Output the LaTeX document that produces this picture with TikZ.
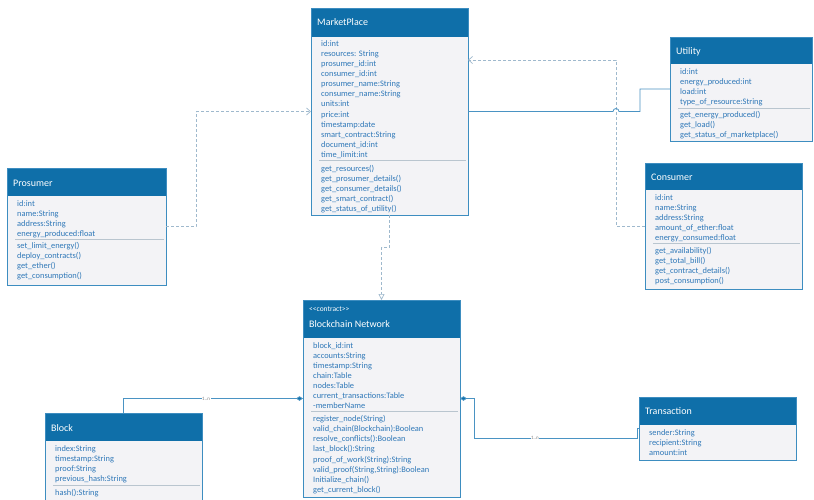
\documentclass[tikz,border=0pt]{standalone}
\usepackage{fontspec}
\setmainfont{Carlito}
\usetikzlibrary{arrows.meta,calc}
\definecolor{hdrblue}{HTML}{0F6FA9}
\definecolor{bodyfill}{HTML}{F3F3F6}
\definecolor{boxline}{HTML}{3D8DC0}
\definecolor{txtblue}{HTML}{2F78B8}
\definecolor{conline}{HTML}{4A93C3}
\definecolor{dashline}{HTML}{9FB9CD}
\definecolor{sepline}{HTML}{B9C5CF}
\tikzset{
  cbody/.style={fill=bodyfill, draw=none, inner sep=0pt, outer sep=0pt},
  ctext/.style={anchor=base west, inner sep=0pt, text=txtblue, font=\fontsize{8.4}{10}\selectfont},
  ctitle/.style={anchor=base west, inner sep=0pt, text=white, font=\fontsize{10}{12}\selectfont},
  cstereo/.style={anchor=base west, inner sep=0pt, text=white, font=\fontsize{7.5}{8}\selectfont},
  sepstyle/.style={draw=sepline, line width=0.6pt},
  dashc/.style={draw=dashline, line width=0.7pt, dash pattern=on 3pt off 2pt},
  solidc/.style={draw=conline, line width=0.8pt},
  lbl/.style={font=\fontsize{5}{5}\selectfont, text=gray, fill=white, inner sep=0.6pt},
}
% name, x, y, w, h, header height
\newcommand{\umlbox}[6]{%
  \node[cbody, minimum width=#4pt, minimum height=#5pt, anchor=north west] (#1) at (#2,#3) {};
  \fill[hdrblue] (#1.north west) rectangle ++(#4,#6);
  \draw[boxline, line width=0.8pt] (#1.north west) rectangle (#1.south east);
}
% x, first baseline, spacing, list
\newcommand{\umllines}[4]{%
  \foreach \t [count=\i from 0] in {#4} \node[ctext] at (#1, #2+\i*#3) {\t};
}
\newcommand{\umlsep}[3]{% x1, x2, y
  \draw[sepstyle] (#1,#3) -- (#2,#3);
}
\begin{document}
\begin{tikzpicture}[x=1pt,y=-1pt]
\clip (0,0) rectangle (814,499);
\fill[white] (0,0) rectangle (814,499);

% MarketPlace
\umlbox{mp}{311}{8}{157}{207}{29}
\node[ctitle] (mpt) at (317,25.5) {MarketPlace};
\umllines{321}{46.3}{10.1}{id:int, resources: String, prosumer\_id:int, consumer\_id:int, prosumer\_name:String, consumer\_name:String, units:int, price:int, timestamp:date, smart\_contract:String, document\_id:int, time\_limit:int}
\umlsep{319}{466}{160.3}
\umllines{321}{171.3}{10}{get\_resources(), get\_prosumer\_details(), get\_consumer\_details(), get\_smart\_contract(), get\_status\_of\_utility()}

% Utility
\umlbox{ut}{670}{37}{142}{104}{27}
\node[ctitle] (utt) at (676,54.5) {Utility};
\umllines{680}{74.8}{10}{id:int, energy\_produced:int, load:int, type\_of\_resource:String}
\umlsep{678}{810}{108.3}
\umllines{680}{117}{10}{get\_energy\_produced(), get\_load(), get\_status\_of\_marketplace()}

% Prosumer
\umlbox{pr}{7}{168}{159}{117}{28}
\node[ctitle] (prt) at (13,186.5) {Prosumer};
\umllines{17}{206}{10.1}{id:int, name:String, address:String, energy\_produced:float}
\umlsep{15}{164}{239.2}
\umllines{17}{248.5}{10.1}{set\_limit\_energy(), deploy\_contracts(), get\_ether(), get\_consumption()}

% Consumer
\umlbox{con}{645}{163}{157}{126}{27}
\node[ctitle] (cont) at (651,180.5) {Consumer};
\umllines{655}{200}{10.2}{id:int, name:String, address:String, amount\_of\_ether:float, energy\_consumed:float}
\umlsep{653}{800}{243.6}
\umllines{655}{253}{10.2}{get\_availability(), get\_total\_bill(), get\_contract\_details(), post\_consumption()}

% Blockchain Network
\umlbox{bc}{303}{300}{157}{197}{38}
\node[cstereo] (bcs) at (309,311.5) {<\kern0pt<contract>\kern0pt>};
\node[ctitle] (bct) at (309,327.5) {Blockchain Network};
\umllines{313}{348}{10.1}{block\_id:int, accounts:String, timestamp:String, chain:Table, nodes:Table, current\_transactions:Table, -memberName}
\umlsep{311}{458}{411.2}
\umllines{313}{421}{10.25}{register\_node(String), valid\_chain(Blockchain):Boolean, resolve\_conflicts():Boolean, last\_block():String, proof\_of\_work(String):String, {valid\_proof(String,String):Boolean}, Initialize\_chain(), get\_current\_block()}

% Block
\umlbox{blk}{45}{413}{157}{95}{28}
\node[ctitle] (blkt) at (51,431.5) {Block};
\umllines{55}{451}{10.2}{index:String, timestamp:String, proof:String, previous\_hash:String}
\umlsep{53}{200}{485.3}
\umllines{55}{495.2}{10}{hash():String}

% Transaction
\umlbox{tr}{639}{397}{157}{63}{28}
\node[ctitle] (trt) at (645,414.5) {Transaction};
\umllines{649}{435}{10}{sender:String, recipient:String, amount:int}

% Connectors
\coordinate (mpin) at ($(mp.north east)+(0,52)$);
\draw[dashc, -{Straight Barb[length=4pt,width=7pt]}] (pr.east) -- ++(30,0) |- (mp.west);
\draw[dashc, -{Straight Barb[length=4pt,width=7pt]}] (con.west) -- ++(-29,0) |- (mpin);
\coordinate (hopL) at ($(mp.east)+(145,0)$);
\coordinate (bendU) at ($(mp.east)+(172,0)$);
\draw[solidc] (mp.east) -- (hopL) arc[start angle=180, end angle=360, radius=3] -- (bendU) |- (ut.west);
\draw[dashc, -{Triangle[open,length=6pt,width=6pt]}] (mp.south) -- ++(0,32) -| (bc.north);
\draw[solidc, {Diamond[length=7pt,width=4.5pt,fill=hdrblue]}-] (bc.west) -| (blk.north) node[pos=0.27, lbl] (l1) {1..n};
\coordinate (trin) at ($(tr.west)+(-2,0)$);
\draw[solidc, {Diamond[length=7pt,width=4.5pt,fill=hdrblue]}-] (bc.east) -- ++(14,0) -- ++(0,39.5) -| (trin) -- (tr.west);
\node[lbl] (l2) at (535,438) {1..n};
\end{tikzpicture}
\end{document}
